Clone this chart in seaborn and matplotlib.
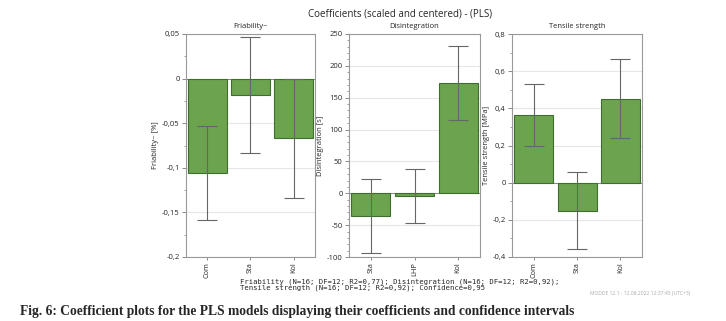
import matplotlib
matplotlib.use("Agg")
import matplotlib.pyplot as plt
import seaborn as sns
import pandas as pd
import numpy as np
from matplotlib.ticker import MultipleLocator, FuncFormatter

sns.set_theme(style="white")
plt.rcParams['font.family'] = ['Open Sans', 'DejaVu Sans']

# ---- data ----
fri_terms = ["Com", "Sta", "Kol"]
fri_coef = [-0.106, -0.018, -0.067]
fri_lo = [-0.158, -0.083, -0.134]
fri_hi = [-0.053, 0.047, 0.000]

dis_terms = ["Sta", "LHP", "Kol"]
dis_coef = [-35, -4, 173]
dis_lo = [-93, -47, 115]
dis_hi = [22, 38, 231]

ten_terms = ["Com", "Sta", "Kol"]
ten_coef = [0.365, -0.150, 0.450]
ten_lo = [0.200, -0.357, 0.240]
ten_hi = [0.530, 0.057, 0.665]

panels = [
    dict(title="Friability~", ylabel="Friability~ [%]", terms=fri_terms, coef=fri_coef,
         lo=fri_lo, hi=fri_hi, ylim=(-0.2, 0.05), major=0.05, minor=0.025),
    dict(title="Disintegration", ylabel="Disintegration [s]", terms=dis_terms, coef=dis_coef,
         lo=dis_lo, hi=dis_hi, ylim=(-100, 250), major=50, minor=10),
    dict(title="Tensile strength", ylabel="Tensile strength [MPa]", terms=ten_terms, coef=ten_coef,
         lo=ten_lo, hi=ten_hi, ylim=(-0.4, 0.8), major=0.2, minor=0.1),
]

W, H = 726, 321
fig = plt.figure(figsize=(W / 100, H / 100), dpi=100)

lefts = [186, 349, 512]
widths = [129, 131, 130]
top_px, bot_px = 34, 257

bar_color = "#6ba34f"
edge_color = "#3f6e2c"
err_color = "#666666"
spine_color = "#999999"

for p, lx, wx in zip(panels, lefts, widths):
    ax = fig.add_axes([lx / W, 1 - bot_px / H, wx / W, (bot_px - top_px) / H])
    df = pd.DataFrame({"term": p["terms"], "coef": p["coef"]})
    sns.barplot(data=df, x="term", y="coef", ax=ax, color=bar_color, saturation=1,
                edgecolor=edge_color, linewidth=0.8, width=0.9, errorbar=None, zorder=2)
    x = np.arange(len(p["terms"]))
    c = np.array(p["coef"], dtype=float)
    lo = np.array(p["lo"], dtype=float)
    hi = np.array(p["hi"], dtype=float)
    ax.errorbar(x, c, yerr=[c - lo, hi - c], fmt="none", ecolor=err_color,
                elinewidth=0.8, capsize=7, capthick=0.8, zorder=3)
    ax.set_ylim(*p["ylim"])
    ax.set_xlim(-0.5, len(p["terms"]) - 0.5)
    ax.yaxis.set_major_locator(MultipleLocator(p["major"]))
    ax.yaxis.set_minor_locator(MultipleLocator(p["minor"]))
    ax.yaxis.set_major_formatter(FuncFormatter(
        lambda v, pos: ("{:g}".format(round(v, 6))).replace(".", ",")))
    ax.grid(axis="y", which="major", color="#e6e6e6", linewidth=0.8, zorder=0)
    ax.set_axisbelow(True)
    ax.axhline(0, color="#777777", linewidth=0.6, zorder=1)
    for s in ax.spines.values():
        s.set_color(spine_color)
        s.set_linewidth(0.8)
    ax.tick_params(axis="y", which="major", length=3, width=0.6, color="#777777",
                   labelsize=5.5, pad=1.5, left=True)
    ax.tick_params(axis="y", which="minor", length=1.8, width=0.5, color="#777777", left=True)
    ax.tick_params(axis="x", length=2.5, width=0.6, color="#777777", labelsize=5.3,
                   pad=1.0, bottom=True, labelrotation=90)
    ax.set_xlabel("")
    ax.set_ylabel(p["ylabel"], fontsize=5.5, labelpad=2)
    ax.set_title(p["title"], fontsize=5.5, pad=4)

fig.text(400 / W, 1 - 14 / H, "Coefficients (scaled and centered) - (PLS)",
         ha="center", va="center", fontsize=7)

fig.text(240 / W, 1 - 284.5 / H,
         "Friability (N=16; DF=12; R2=0,77); Disintegration (N=16; DF=12; R2=0,92);\n"
         "Tensile strength (N=16; DF=12; R2=0,92); Confidence=0,95",
         ha="left", va="center", fontsize=5.25, family="DejaVu Sans Mono", linespacing=0.95)

fig.text(690 / W, 1 - 294 / H, "MODDE 12.1 - 12.08.2022 12:37:45 (UTC+3)",
         ha="right", va="center", fontsize=3.6, color="#aaaaaa")

fig.text(20 / W, 1 - 311 / H,
         "Fig. 6: Coefficient plots for the PLS models displaying their coefficients and confidence intervals",
         ha="left", va="center", fontsize=9.75, family="Liberation Serif", weight="bold")

fig.savefig("out.png", dpi=100)
